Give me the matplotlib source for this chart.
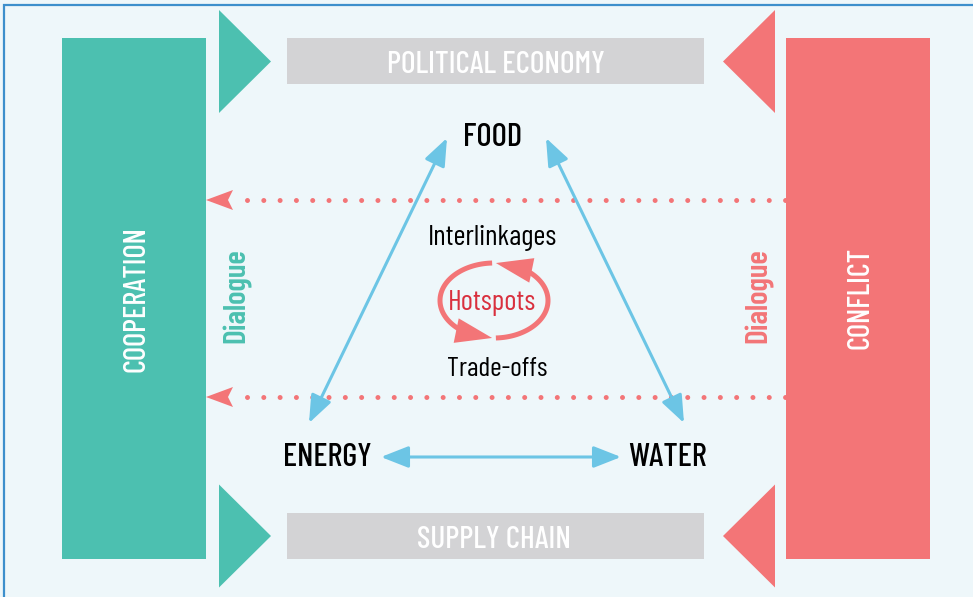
import matplotlib
matplotlib.use("Agg")
import matplotlib.pyplot as plt
from matplotlib import font_manager
from matplotlib.patches import Rectangle, Polygon, FancyArrowPatch
import numpy as np

# ---- content ----
side_labels = ["COOPERATION", "CONFLICT"]
band_labels = ["POLITICAL ECONOMY", "SUPPLY CHAIN"]
nodes = ["FOOD", "ENERGY", "WATER"]
dialogue_label = "Dialogue"
center_labels = ["Interlinkages", "Hotspots", "Trade-offs"]

# colours
BG = "#EEF7FA"
GREEN = "#4CC0B0"
RED = "#F37577"
GRAY = "#D3D3D5"
BLUE = "#6CC5E5"
HOT = "#D9303E"
FRAME = "#3D8FCC"

names = {f.name for f in font_manager.fontManager.ttflist}
FONT = "DejaVu Sans"
for cand in ["Barlow Condensed", "Archivo Narrow", "Asap Condensed", "Roboto"]:
    if cand in names:
        FONT = cand
        break
plt.rcParams["font.family"] = [FONT, "DejaVu Sans"]
WGT = 500

W, H = 973, 597
fig = plt.figure(figsize=(W / 100, H / 100), dpi=100)
fig.patch.set_facecolor(BG)
ax = fig.add_axes([0, 0, 1, 1])
ax.set_xlim(0, W)
ax.set_ylim(H, 0)
ax.axis("off")

# frame
ax.add_patch(Rectangle((4, 5), W + 20, H + 20, facecolor=BG, edgecolor=FRAME, lw=1.6, zorder=0))

# side blocks
ax.add_patch(Rectangle((62, 38), 144, 521, facecolor=GREEN, edgecolor="none", zorder=1))
ax.add_patch(Rectangle((786, 38), 144, 521, facecolor=RED, edgecolor="none", zorder=1))

# gray bands
ax.add_patch(Rectangle((287, 38), 417, 46, facecolor=GRAY, edgecolor="none", zorder=1))
ax.add_patch(Rectangle((287, 513), 417, 46, facecolor=GRAY, edgecolor="none", zorder=1))

# triangles
for yc in (61.5, 536):
    ax.add_patch(Polygon([(219, yc - 51.5), (271, yc), (219, yc + 51.5)], closed=True,
                         facecolor=GREEN, edgecolor="none", zorder=1))
    ax.add_patch(Polygon([(775, yc - 51.5), (723, yc), (775, yc + 51.5)], closed=True,
                         facecolor=RED, edgecolor="none", zorder=1))

# band & side text
ax.text(496, 65, band_labels[0], color="white", fontsize=22.5, ha="center", va="center", fontweight=WGT, zorder=2)
ax.text(494, 540, band_labels[1], color="white", fontsize=22.5, ha="center", va="center", fontweight=WGT, zorder=2)
ax.text(136, 299, side_labels[0], color="white", fontsize=22, ha="center", va="center", rotation=90, fontweight=WGT, zorder=2)
ax.text(860, 298, side_labels[1], color="white", fontsize=22, ha="center", va="center", rotation=90, fontweight=WGT, zorder=2)
ax.text(237, 296, dialogue_label, color=GREEN, fontsize=22.5, ha="center", va="center", rotation=90, fontweight=600, zorder=2)
ax.text(759, 296, dialogue_label, color=RED, fontsize=22.5, ha="center", va="center", rotation=90, fontweight=600, zorder=2)

# dotted arrows
for y in (200, 397):
    ax.plot([247, 786], [y, y], color=RED, lw=3.6, linestyle=(0, (0.001, 3.26)),
            dash_capstyle="round", zorder=2)
    ax.add_patch(Polygon([(206, y), (233, y - 10), (228, y), (233, y + 10)], closed=True,
                         facecolor=RED, edgecolor="none", zorder=2))

# node labels
ax.text(493, 137, nodes[0], color="black", fontsize=23.5, ha="center", va="center", fontweight=WGT, zorder=3)
ax.text(327, 458, nodes[1], color="black", fontsize=23.5, ha="center", va="center", fontweight=WGT, zorder=3)
ax.text(667, 458, nodes[2], color="black", fontsize=23.5, ha="center", va="center", fontweight=WGT, zorder=3)

# blue double arrows
arrow_ends = [((447, 138), (309, 423)), ((546, 138), (684, 423)), ((381, 457), (621, 457))]
for a, b in arrow_ends:
    ax.add_patch(FancyArrowPatch(a, b, arrowstyle="<|-|>,head_length=1.4,head_width=0.55",
                                 mutation_scale=12, color=BLUE, lw=2.2, shrinkA=0, shrinkB=0, zorder=3))

# center texts
ax.text(493, 238, center_labels[0], color="black", fontsize=21, ha="center", va="center", zorder=3)
ax.text(492, 303, center_labels[1], color=HOT, fontsize=21, ha="center", va="center", zorder=3)
ax.text(497, 369, center_labels[2], color="black", fontsize=20, ha="center", va="center", zorder=3)

# hotspots loop (counter-clockwise on screen)
cx, cy, rx, ry = 494, 300.5, 54, 37.5
arcs = [np.linspace(np.deg2rad(92), np.deg2rad(268), 80),
        np.linspace(np.deg2rad(272), np.deg2rad(448), 80)]
for t in arcs:
    xs = cx + rx * np.cos(t)
    ys = cy - ry * np.sin(t)
    ax.plot(xs[:-10], ys[:-10], color=RED, lw=3.6, solid_capstyle="butt", zorder=3)
    ax.add_patch(FancyArrowPatch((xs[-14], ys[-14]), (xs[-1], ys[-1]),
                                 arrowstyle="-|>,head_length=2.2,head_width=0.75",
                                 mutation_scale=12, color=RED, lw=0, shrinkA=0, shrinkB=0, zorder=3))

fig.savefig("out.png", dpi=100, facecolor=BG)
